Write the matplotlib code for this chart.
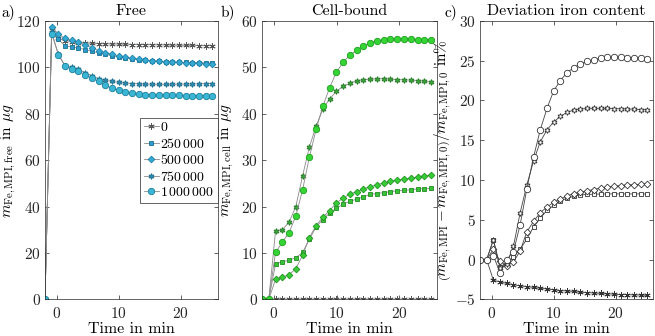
import numpy as np
import matplotlib.pyplot as plt

plt.rcParams['font.family'] = 'serif'
plt.rcParams['font.serif'] = ['cmr10']
plt.rcParams['mathtext.fontset'] = 'cm'
plt.rcParams['axes.formatter.use_mathtext'] = True
plt.rcParams['axes.unicode_minus'] = False
plt.rcParams['font.size'] = 11

# time axis (min)
t = [-1.9, -0.82, 0.26, 1.34, 2.42, 3.5, 4.58, 5.66, 6.74, 7.82, 8.9, 9.98, 11.06,
     12.14, 13.22, 14.3, 15.38, 16.46, 17.54, 18.62, 19.7, 20.78, 21.86, 22.94, 24.02, 25.1]

labels = ['$0$', r'$250\,000$', r'$500\,000$', r'$750\,000$', r'$1\,000\,000$']

# a) free iron mass in ug
free_0 = [0, 116.0, 112.5, 111.5, 111.0, 110.6, 110.4, 110.3, 110.2, 110.1, 110.0, 110.0, 109.9,
          109.8, 109.8, 109.7, 109.7, 109.6, 109.6, 109.5, 109.5, 109.4, 109.4, 109.3, 109.3, 109.3]
free_250k = [0, 114.9, 112.0, 109.2, 108.7, 108.3, 107.6, 106.9, 106.2, 105.6, 105.0, 104.4, 104.0,
             103.6, 103.3, 103.0, 102.8, 102.6, 102.4, 102.3, 102.2, 102.1, 102.0, 102.0, 101.9, 101.9]
free_500k = [0, 117.4, 114.3, 112.4, 111.6, 110.9, 109.6, 108.4, 107.2, 106.3, 105.6, 104.9, 104.3,
             103.9, 103.5, 103.1, 102.9, 102.6, 102.4, 102.3, 102.1, 102.0, 101.9, 101.7, 101.6, 101.6]
free_750k = [0, 115.0, 105.6, 100.7, 100.0, 99.1, 97.7, 96.3, 95.1, 94.4, 93.9, 93.5, 93.2,
             93.0, 92.8, 92.7, 92.7, 92.6, 92.6, 92.6, 92.7, 92.7, 92.8, 92.8, 92.9, 93.0]
free_1m = [0, 114.5, 105.4, 100.5, 99.4, 98.3, 96.7, 95.3, 93.9, 92.2, 91.0, 90.0, 89.4,
           88.9, 88.5, 88.2, 88.0, 88.0, 87.9, 87.9, 87.9, 87.8, 87.8, 87.8, 87.8, 87.8]

# b) cell-bound iron mass in ug
cell_0 = [0] * 26
cell_250k = [0, 0, 7.6, 8.1, 8.4, 9.0, 10.1, 12.9, 15.6, 17.2, 18.6, 19.6, 20.5,
             21.1, 21.6, 22.1, 22.6, 22.8, 23.0, 23.2, 23.4, 23.5, 23.6, 23.8, 23.8, 23.9]
cell_500k = [0, 0, 4.3, 4.8, 5.3, 6.6, 9.5, 13.3, 15.9, 17.7, 19.1, 20.8, 21.8,
             22.7, 23.2, 23.8, 24.3, 24.7, 25.1, 25.4, 25.7, 25.9, 26.1, 26.4, 26.6, 26.8]
cell_750k = [0, 0, 14.7, 15.0, 16.6, 20.0, 26.6, 32.8, 37.3, 41.0, 43.2, 44.8, 45.9,
             46.6, 47.1, 47.3, 47.4, 47.5, 47.5, 47.4, 47.3, 47.3, 47.2, 47.1, 47.0, 46.8]
cell_1m = [0, 0, 10.1, 12.3, 14.4, 17.9, 23.6, 30.6, 36.6, 41.6, 45.6, 48.9, 51.1,
           52.6, 53.7, 54.6, 55.3, 55.7, 55.9, 56.0, 56.1, 56.1, 56.0, 55.9, 55.9, 55.8]

# c) deviation of total iron content in %
dev_0 = [0, 0, -2.6, -2.8, -3.0, -3.15, -3.3, -3.4, -3.5, -3.6, -3.7, -3.8, -3.9,
         -3.95, -4.0, -4.1, -4.15, -4.2, -4.25, -4.3, -4.35, -4.4, -4.4, -4.45, -4.45, -4.5]
dev_250k = [0, 0, 2.5, -0.9, -0.4, 0.3, 1.3, 2.6, 4.1, 5.2, 6.2, 6.8, 7.4,
            7.7, 7.95, 8.1, 8.2, 8.2, 8.25, 8.25, 8.25, 8.25, 8.25, 8.25, 8.25, 8.25]
dev_500k = [0, 0, 1.3, -0.2, -0.8, -0.3, 1.1, 3.5, 4.8, 5.9, 6.6, 7.2, 7.6,
            8.0, 8.3, 8.45, 8.65, 8.8, 9.0, 9.1, 9.2, 9.3, 9.4, 9.4, 9.45, 9.55]
dev_750k = [0, 0, 2.5, -1.1, -0.5, 1.7, 5.9, 9.4, 12.4, 14.8, 16.3, 17.3, 18.0,
            18.5, 18.8, 18.9, 19.0, 19.0, 19.0, 19.0, 18.95, 18.95, 18.9, 18.9, 18.85, 18.8]
dev_1m = [0, 0, 0.5, -1.7, 0.0, 1.0, 4.4, 8.9, 12.9, 16.3, 19.0, 21.2, 22.5,
          23.5, 24.1, 24.6, 24.9, 25.1, 25.3, 25.4, 25.4, 25.4, 25.35, 25.3, 25.3, 25.2]

markers = [(6, 2, 0), 's', 'D', (6, 1, 0), 'o']
msizes = [4.5, 3.4, 3.4, 4.2, 4.6]
blue_face = ['#555555', '#2e9ccb', '#34aad3', '#2c8fb5', '#3ab6d4']
blue_edge = ['#555555', '#1a6f92', '#1e7ea6', '#1d6d8c', '#1b7f9c']
green_face = ['#555555', '#38c238', '#36cc36', '#3aa83a', '#35d435']
green_edge = ['#555555', '#208a20', '#1f931f', '#277a27', '#1e9e1e']

fig = plt.figure(figsize=(6.55, 3.36), dpi=100)
ax_a = fig.add_axes([0.0687, 0.109, 0.2641, 0.829])
ax_b = fig.add_axes([0.400, 0.109, 0.2667, 0.829])
ax_c = fig.add_axes([0.7328, 0.109, 0.2642, 0.829])


def draw(ax, series, faces, edges, lcol):
    handles = []
    for i, y in enumerate(series):
        h, = ax.plot(t, y, color=lcol, lw=0.6, marker=markers[i], ms=msizes[i],
                     mfc=faces[i], mec=edges[i], mew=0.6, label=labels[i])
        handles.append(h)
    return handles


hs = draw(ax_a, [free_0, free_250k, free_500k, free_750k, free_1m], blue_face, blue_edge, '#8a8a8a')
draw(ax_b, [cell_0, cell_250k, cell_500k, cell_750k, cell_1m], green_face, green_edge, '#8a8a8a')
draw(ax_c, [dev_0, dev_250k, dev_500k, dev_750k, dev_1m], ['#333333'] + ['white'] * 4,
     ['#333333'] * 5, '#444444')

ax_a.set_ylim(0, 120)
ax_a.set_yticks([0, 20, 40, 60, 80, 100, 120])
ax_b.set_ylim(0, 60)
ax_b.set_yticks([0, 10, 20, 30, 40, 50, 60])
ax_c.set_ylim(-5, 30)
ax_c.set_yticks([-5, 0, 5, 10, 15, 20, 25, 30])

for ax in (ax_a, ax_b, ax_c):
    ax.set_xlim(-1.9, 26)
    ax.set_xticks([0, 10, 20])
    ax.tick_params(direction='in', top=True, right=True, length=3, width=0.5,
                   colors='#262626', labelsize=11, pad=3)
    ax.tick_params(axis='x', pad=5)
    for s in ax.spines.values():
        s.set_linewidth(0.5)
        s.set_color('#262626')
    ax.set_xlabel('Time in min', labelpad=1, fontsize=11.5)

ax_a.set_title('Free', pad=4, fontsize=11.5)
ax_b.set_title('Cell-bound', pad=4, fontsize=11.5)
ax_c.set_title('Deviation iron content', pad=4, fontsize=11.5)

ax_a.set_ylabel(r'$m_{\mathrm{Fe,MPI,free}}$ in $\mu g$', fontsize=11)
ax_b.set_ylabel(r'$m_{\mathrm{Fe,MPI,cell}}$ in $\mu g$', fontsize=11)
ax_c.set_ylabel(r'$\left(m_{\mathrm{Fe,MPI}}-m_{\mathrm{Fe,MPI,0}}\right)/m_{\mathrm{Fe,MPI,0}}$ in%',
                fontsize=11)
ax_a.yaxis.set_label_coords(-0.158, 0.5)
ax_b.yaxis.set_label_coords(-0.15, 0.5)
ax_c.yaxis.set_label_coords(-0.152, 0.5)

fig.text(0.002, 0.988, 'a)', ha='left', va='top', fontsize=11)
fig.text(0.336, 0.988, 'b)', ha='left', va='top', fontsize=11)
fig.text(0.679, 0.988, 'c)', ha='left', va='top', fontsize=11)

leg = ax_a.legend(handles=hs, loc='center right', borderaxespad=0, fancybox=False,
                  edgecolor='#262626', framealpha=1, fontsize=10, handlelength=1.1,
                  handletextpad=0.1, labelspacing=0.18, borderpad=0.25)
leg.get_frame().set_linewidth(0.5)

fig.savefig('out.png', dpi=100)
